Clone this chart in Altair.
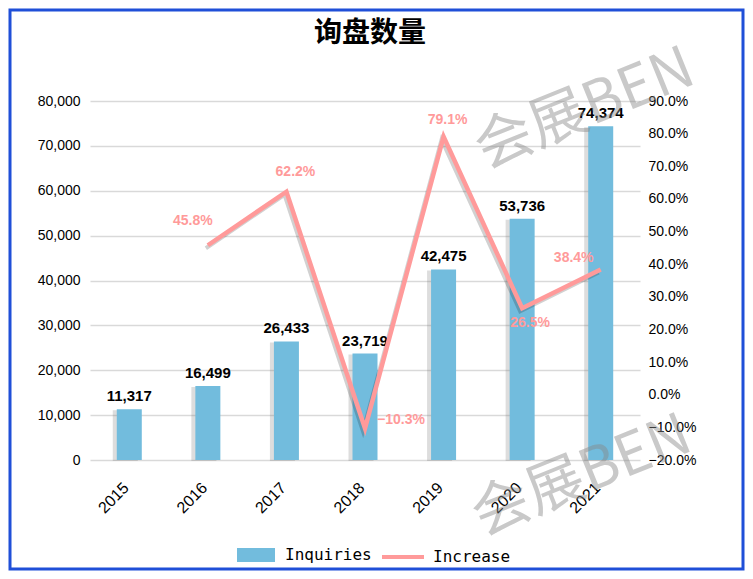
import altair as alt
import pandas as pd

# ---------------- data ----------------
YEARS = ["2015", "2016", "2017", "2018", "2019", "2020", "2021"]
INQUIRIES = [11317, 16499, 26433, 23719, 42475, 53736, 74374]
INC_YEARS = ["2016", "2017", "2018", "2019", "2020", "2021"]
INCREASE = [0.458, 0.622, -0.103, 0.791, 0.265, 0.384]
LEFT_TICKS = [0, 10000, 20000, 30000, 40000, 50000, 60000, 70000, 80000]
RIGHT_TICKS = [-0.2, -0.1, 0.0, 0.1, 0.2, 0.3, 0.4, 0.5, 0.6, 0.7, 0.8, 0.9]
TITLE = ["询盘数量"]
WATERMARK = ["会展BEN"]
BAR_NAME = "Inquiries"
LINE_NAME = "Increase"

# ---------------- styles ----------------
BAR_COLOR = "#72BCDD"
LINE_COLOR = "#FF9A9A"
GRID = "#D9D9D9"
FONT = "Liberation Sans"
CJK = "Noto Sans CJK SC"
# label placement (dx, dy) for percentage labels, per year
PCT_POS = {"2016": (-15, -24), "2017": (9, -20), "2018": (36, -8),
           "2019": (4, -17), "2020": (8, 15), "2021": (-27, -11)}

bars_df = pd.DataFrame({"year": YEARS, "value": INQUIRIES, "series": BAR_NAME})
line_df = pd.DataFrame({"year": INC_YEARS, "pct": INCREASE, "series": LINE_NAME})

x_enc = alt.X(
    "year:N",
    scale=alt.Scale(domain=YEARS, paddingInner=0, paddingOuter=0),
    axis=alt.Axis(labelAngle=-45, labelAlign="right", labelBaseline="middle",
                  labelPadding=25, labelOffset=-3, labelFont=FONT, labelFontSize=16,
                  labelColor="#000", domain=False, ticks=False, grid=False),
    title=None,
)

y_left = alt.Y(
    "value:Q",
    scale=alt.Scale(domain=[0, 80000], nice=False),
    axis=alt.Axis(values=LEFT_TICKS, format=",.0f", grid=True, gridColor=GRID, gridWidth=1.5,
                  domain=False, ticks=False, labelPadding=10, labelFont=FONT,
                  labelFontSize=14, labelColor="#000"),
    title=None,
)
y_right = alt.Y(
    "pct:Q",
    scale=alt.Scale(domain=[-0.2, 0.9], nice=False, zero=False),
    axis=alt.Axis(orient="right", values=RIGHT_TICKS, format=".1%", grid=False,
                  domain=False, ticks=False, labelPadding=8, labelFont=FONT,
                  labelFontSize=14, labelColor="#000"),
    title=None,
)

base_bar = alt.Chart(bars_df)
bar_shadow = base_bar.mark_bar(size=25, color="#777", opacity=0.25, xOffset=-4, yOffset=1).encode(
    x=x_enc, y=y_left)
bars = base_bar.mark_bar(size=25).encode(
    x=x_enc, y=y_left,
    fill=alt.Fill("series:N", scale=alt.Scale(domain=[BAR_NAME], range=[BAR_COLOR]),
                  legend=alt.Legend(orient="none", legendX=147, legendY=435, title=None,
                                    symbolType="M-1,-0.37H1V0.37H-1Z", symbolSize=1444,
                                    symbolStrokeWidth=0, labelFont="DejaVu Sans Mono",
                                    labelFontSize=16, labelColor="#000", labelOffset=10)),
)
bar_labels = base_bar.mark_text(baseline="bottom", dy=-5, font=FONT, fontSize=15,
                                fontWeight="bold", color="#000").encode(
    x=x_enc, y=y_left, text=alt.Text("value:Q", format=","))
bar_layer = alt.layer(bar_shadow, bars, bar_labels)

base_line = alt.Chart(line_df)
line_shadow = base_line.mark_line(strokeWidth=4, color="#000", opacity=0.18,
                                  xOffset=-2, yOffset=3).encode(x=x_enc, y=y_right)
line = base_line.mark_line(strokeWidth=4.5).encode(
    x=x_enc, y=y_right,
    stroke=alt.Stroke("series:N", scale=alt.Scale(domain=[LINE_NAME], range=[LINE_COLOR]),
                      legend=alt.Legend(orient="none", legendX=290, legendY=433, title=None,
                                        symbolType="stroke", symbolSize=1764,
                                        symbolStrokeWidth=4, labelFont="DejaVu Sans Mono",
                                        labelFontSize=16, labelColor="#000", labelOffset=7)),
)
pct_labels = [
    base_line.transform_filter(alt.datum.year == yr).mark_text(
        dx=d[0], dy=d[1], font=FONT, fontSize=14, fontWeight="bold", color=LINE_COLOR,
        baseline="middle").encode(x=x_enc, y=y_right,
                                  text=alt.Text("pct:Q", format=".1%"))
    for yr, d in PCT_POS.items()
]
line_layer = alt.layer(line_shadow, line, *pct_labels)

# decorations: title, watermarks, frame
title_df = pd.DataFrame({"t": TITLE})
wm_df = pd.DataFrame({"t": WATERMARK})
title_mark = alt.Chart(title_df).mark_text(font=CJK, fontSize=28, fontWeight="bold",
                                           color="#000", baseline="middle").encode(
    x=alt.value(280), y=alt.value(-67), text="t:N")
wm1 = alt.Chart(wm_df).mark_text(font=CJK, fontSize=58, color="#888", opacity=0.45,
                                 angle=338, baseline="middle").encode(
    x=alt.value(495), y=alt.value(9), text="t:N")
wm2 = alt.Chart(wm_df).mark_text(font=CJK, fontSize=58, color="#888", opacity=0.45,
                                 angle=338, baseline="middle").encode(
    x=alt.value(492), y=alt.value(376), text="t:N")
frame = alt.Chart(title_df).mark_rect(fillOpacity=0, stroke="#1F4FD8", strokeWidth=3).encode(
    x=alt.value(-80), x2=alt.value(653), y=alt.value(-91), y2=alt.value(468))

chart = alt.layer(bar_layer, line_layer, title_mark, wm1, wm2, frame).resolve_scale(
    y="independent", fill="independent", stroke="independent"
).properties(
    width=550, height=359,
    padding={"left": 82, "top": 93, "right": 105, "bottom": 111},
    autosize=alt.AutoSizeParams(type="none"),
    background="white",
).configure_view(stroke=None)

chart.save("out.html", embed_options={"renderer": "svg", "actions": False})
